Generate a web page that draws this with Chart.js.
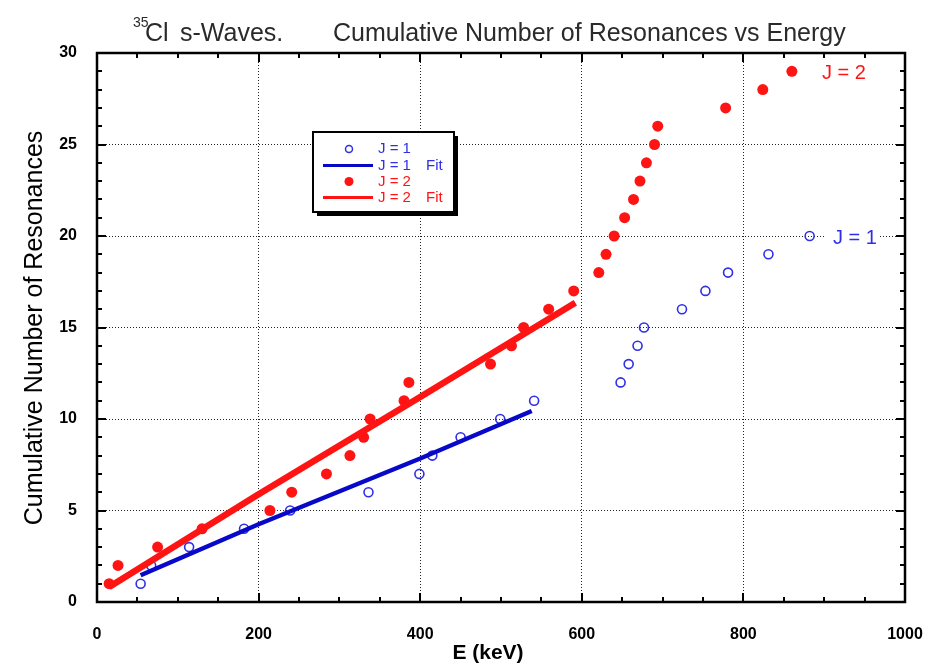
<!DOCTYPE html>
<html>
<head>
<meta charset="utf-8">
<script src="https://cdn.jsdelivr.net/npm/chart.js@4.4.0/dist/chart.umd.min.js"></script>
<style>
  body { margin: 0; background: #fff; }
  #wrap { width: 928px; height: 664px; }
</style>
</head>
<body>
<div id="wrap"><canvas id="myChart" width="928" height="664"></canvas></div>
<script>
// J = 1 resonances (open circles), energy in keV
const j1Energy = [54, 67, 114, 182, 239, 336, 399, 415, 450, 499, 541,
                  648, 658, 669, 677, 724, 753, 781, 831, 882];
const j1Count = [1, 2, 3, 4, 5, 6, 7, 8, 9, 10, 11, 12, 13, 14, 15, 16, 17, 18, 19, 20];

// J = 2 resonances (filled circles)
const j2Energy = [15, 26, 75, 130, 214, 241, 284, 313, 330, 338, 380, 386, 487, 513, 528,
                  559, 590, 621, 630, 640, 653, 664, 672, 680, 690, 694, 778, 824, 860];
const j2Count = [1, 2, 3, 4, 5, 6, 7, 8, 9, 10, 11, 12, 13, 14, 15, 16, 17, 18, 19, 20,
                 21, 22, 23, 24, 25, 26, 27, 28, 29];

// fit lines
const j1FitEnergy = [54, 200, 400, 538];
const j1FitCount = [1.46, 4.25, 7.84, 10.44];
const j2FitEnergy = [15, 198, 400, 592];
const j2FitCount = [0.82, 5.83, 11.2, 16.35];

// axes
const xTicks = [0, 200, 400, 600, 800, 1000];
const yTicks = [0, 5, 10, 15, 20, 25, 30];

const BLUE = "#2f2fe6";
const BLUE_FIT = "#0808c8";
const RED = "#ff1414";
const FONT = "'Liberation Sans', Arial, Helvetica, sans-serif";

const toPoints = (xs, ys) => xs.map((v, i) => ({ x: v, y: ys[i] }));

// frame, inward ticks, titles, legend and labels
const decorPlugin = {
  id: "decor",
  afterDraw(chart) {
    const { ctx, chartArea: a, scales: { x, y } } = chart;
    ctx.save();

    const seg = (x1, y1, x2, y2) => {
      ctx.beginPath();
      ctx.moveTo(x1, y1);
      ctx.lineTo(x2, y2);
      ctx.stroke();
    };

    // ticks
    ctx.strokeStyle = "#000";
    ctx.lineWidth = 2;
    for (let e = 50; e < 1000; e += 50) {
      const px = Math.round(x.getPixelForValue(e));
      const len = e % 200 === 0 ? 9 : 5;
      seg(px, a.bottom, px, a.bottom - len);
      seg(px, a.top, px, a.top + len);
    }
    for (let n = 1; n < 30; n++) {
      const py = Math.round(y.getPixelForValue(n));
      const len = n % 5 === 0 ? 9 : 5;
      seg(a.left, py, a.left + len, py);
      seg(a.right, py, a.right - len, py);
    }

    // frame
    ctx.lineWidth = 2.5;
    ctx.strokeRect(a.left, a.top, a.right - a.left, a.bottom - a.top);

    // title
    ctx.fillStyle = "#2a2a2a";
    ctx.textBaseline = "alphabetic";
    ctx.textAlign = "left";
    ctx.font = `14px ${FONT}`;
    ctx.fillText("35", 133, 27);
    ctx.font = `25px ${FONT}`;
    ctx.fillText("Cl", 145, 41);
    ctx.fillText("s-Waves.", 180, 41);
    ctx.fillText("Cumulative Number of Resonances vs Energy", 333, 41);

    // axis titles
    ctx.fillStyle = "#000";
    ctx.font = `bold 21px ${FONT}`;
    ctx.textAlign = "center";
    ctx.fillText("E (keV)", 488, 659);
    ctx.save();
    ctx.translate(42, 328);
    ctx.rotate(-Math.PI / 2);
    ctx.font = `25px ${FONT}`;
    ctx.fillText("Cumulative Number of Resonances", 0, 0);
    ctx.restore();

    // in-plot labels
    ctx.textAlign = "left";
    ctx.textBaseline = "middle";
    ctx.font = `20px ${FONT}`;
    ctx.fillStyle = "#fff";
    ctx.fillRect(826, 226, 54, 22);
    ctx.fillStyle = RED;
    ctx.fillText("J = 2", 822, 73);
    ctx.fillStyle = BLUE;
    ctx.fillText("J = 1", 833, 238);

    // legend box with shadow
    const bx = 313, by = 132, bw = 141, bh = 80;
    ctx.fillStyle = "#000";
    ctx.fillRect(bx + 4, by + 4, bw, bh);
    ctx.fillStyle = "#fff";
    ctx.fillRect(bx, by, bw, bh);
    ctx.lineWidth = 2;
    ctx.strokeStyle = "#000";
    ctx.strokeRect(bx, by, bw, bh);

    const rows = [149, 165.5, 181.5, 197.5];
    ctx.font = `15px ${FONT}`;
    // J = 1 marker
    ctx.strokeStyle = BLUE;
    ctx.lineWidth = 1.5;
    ctx.beginPath();
    ctx.arc(349, rows[0], 3.5, 0, Math.PI * 2);
    ctx.stroke();
    ctx.fillStyle = BLUE;
    ctx.fillText("J = 1", 378, rows[0]);
    // J = 1 fit
    ctx.strokeStyle = BLUE_FIT;
    ctx.lineWidth = 3;
    seg(323, rows[1], 373, rows[1]);
    ctx.fillText("J = 1", 378, rows[1]);
    ctx.fillText("Fit", 426, rows[1]);
    // J = 2 marker
    ctx.fillStyle = RED;
    ctx.beginPath();
    ctx.arc(349, rows[2], 4.5, 0, Math.PI * 2);
    ctx.fill();
    ctx.fillText("J = 2", 378, rows[2]);
    // J = 2 fit
    ctx.strokeStyle = RED;
    ctx.lineWidth = 3;
    seg(323, rows[3], 373, rows[3]);
    ctx.fillText("J = 2", 378, rows[3]);
    ctx.fillText("Fit", 426, rows[3]);

    ctx.restore();
  }
};

const innerGrid = (lo, hi) => (c) =>
  c.tick && c.tick.value > lo && c.tick.value < hi ? "#222" : "rgba(0,0,0,0)";

new Chart(document.getElementById("myChart"), {
  type: "scatter",
  data: {
    datasets: [
      {
        label: "J = 1 Fit",
        data: toPoints(j1FitEnergy, j1FitCount),
        showLine: true,
        borderColor: BLUE_FIT,
        borderWidth: 4.5,
        pointRadius: 0,
        fill: false,
      },
      {
        label: "J = 2 Fit",
        data: toPoints(j2FitEnergy, j2FitCount),
        showLine: true,
        borderColor: RED,
        borderWidth: 6.5,
        pointRadius: 0,
        fill: false,
      },
      {
        label: "J = 1",
        data: toPoints(j1Energy, j1Count),
        pointStyle: "circle",
        pointRadius: 4.5,
        pointBorderWidth: 1.6,
        pointBorderColor: BLUE,
        pointBackgroundColor: "rgba(0,0,0,0)",
      },
      {
        label: "J = 2",
        data: toPoints(j2Energy, j2Count),
        pointStyle: "circle",
        pointRadius: 5.5,
        pointBorderWidth: 0,
        pointBackgroundColor: RED,
        pointBorderColor: RED,
      },
    ],
  },
  options: {
    responsive: false,
    animation: false,
    layout: { padding: { top: 53, right: 23, left: 0, bottom: 0 } },
    plugins: {
      legend: { display: false },
      tooltip: { enabled: false },
    },
    scales: {
      x: {
        type: "linear",
        min: 0,
        max: 1000,
        afterBuildTicks: (s) => { s.ticks = xTicks.map((v) => ({ value: v })); },
        afterFit: (s) => { s.height = 62; s.paddingLeft = 0; s.paddingRight = 0; },
        ticks: {
          color: "#000",
          padding: 23,
          callback: (v) => String(v),
          font: { family: FONT, size: 16, weight: "bold" },
        },
        grid: { color: innerGrid(0, 1000), lineWidth: 1, drawTicks: false },
        border: { display: false, dash: [1, 2] },
      },
      y: {
        type: "linear",
        min: 0,
        max: 30,
        afterBuildTicks: (s) => { s.ticks = yTicks.map((v) => ({ value: v })); },
        afterFit: (s) => { s.width = 97; s.paddingTop = 0; s.paddingBottom = 0; },
        ticks: {
          color: "#000",
          padding: 20,
          font: { family: FONT, size: 16, weight: "bold" },
        },
        grid: { color: innerGrid(0, 30), lineWidth: 1, drawTicks: false },
        border: { display: false, dash: [1, 2] },
      },
    },
  },
  plugins: [decorPlugin],
});
</script>
</body>
</html>
